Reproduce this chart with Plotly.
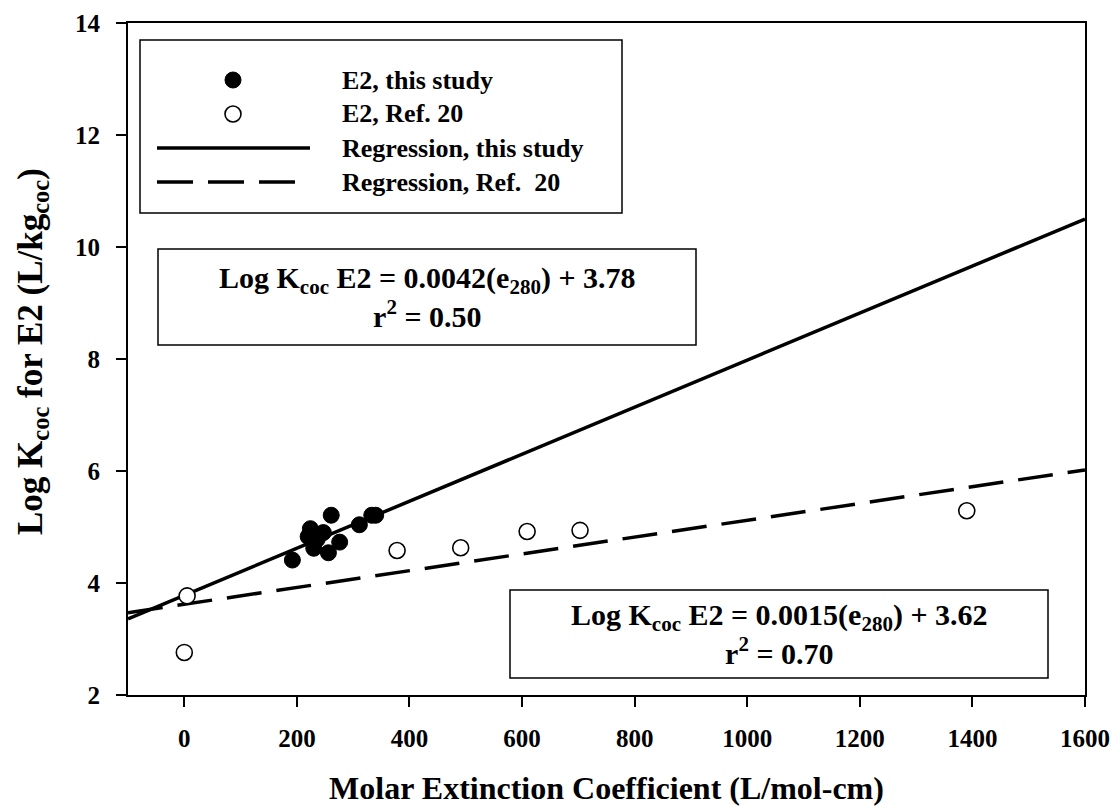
import plotly.graph_objects as go

# ---- data ----
this_x = [192, 220, 224, 230, 236, 247, 256, 261, 276, 311, 333, 340]
this_y = [4.41, 4.83, 4.97, 4.62, 4.78, 4.90, 4.54, 5.21, 4.73, 5.04, 5.21, 5.21]

ref_x = [0, 5, 378, 491, 609, 703, 1390]
ref_y = [2.76, 3.77, 4.58, 4.63, 4.92, 4.94, 5.29]

reg_x = [-100, 1600]
reg_this_y = [3.36, 10.50]
reg_ref_y = [3.47, 6.02]

x_ticks = [0, 200, 400, 600, 800, 1000, 1200, 1400, 1600]
y_ticks = [2, 4, 6, 8, 10, 12, 14]

legend_labels = ["E2, this study", "E2, Ref. 20", "Regression, this study", "Regression, Ref.  20"]
eq_this = "Log K<sub>coc</sub> E2 = 0.0042(e<sub>280</sub>) + 3.78<br>r<sup>2</sup> = 0.50"
eq_ref = "Log K<sub>coc</sub> E2 = 0.0015(e<sub>280</sub>) + 3.62<br>r<sup>2</sup> = 0.70"
x_title = "Molar Extinction Coefficient (L/mol-cm)"
y_title = "Log K<sub>coc</sub> for E2 (L/kg<sub>coc</sub>)"

# ---- layout geometry (pixels) ----
W, H = 1117, 806
L, R, T, B = 128, 1085, 23, 695
FONT = "Liberation Serif"


def px(x):
    return (x - L) / (R - L)


def py(y):
    return (B - y) / (B - T)


fig = go.Figure()

fig.add_trace(go.Scatter(x=reg_x, y=reg_this_y, mode="lines",
                         line=dict(color="black", width=3.5), showlegend=False))
fig.add_trace(go.Scatter(x=reg_x, y=reg_ref_y, mode="lines",
                         line=dict(color="black", width=3.5, dash="35px,15px"), showlegend=False))
fig.add_trace(go.Scatter(x=this_x, y=this_y, mode="markers",
                         marker=dict(color="black", size=16, line=dict(color="black", width=1)),
                         showlegend=False))
fig.add_trace(go.Scatter(x=ref_x, y=ref_y, mode="markers",
                         marker=dict(color="white", size=16, line=dict(color="black", width=1.6)),
                         showlegend=False))

shapes = []
annotations = []

# legend box
shapes.append(dict(type="rect", xref="paper", yref="paper",
                   x0=px(140), x1=px(622), y0=py(213), y1=py(40),
                   line=dict(color="black", width=1.5), fillcolor="white", layer="below"))
rows = [80, 114, 148, 182]
shapes.append(dict(type="circle", xref="paper", yref="paper", xsizemode="pixel", ysizemode="pixel",
                   xanchor=px(233), yanchor=py(rows[0]), x0=-8, x1=8, y0=-8, y1=8,
                   fillcolor="black", line=dict(color="black", width=1)))
shapes.append(dict(type="circle", xref="paper", yref="paper", xsizemode="pixel", ysizemode="pixel",
                   xanchor=px(233), yanchor=py(rows[1]), x0=-8, x1=8, y0=-8, y1=8,
                   fillcolor="white", line=dict(color="black", width=1.6)))
shapes.append(dict(type="line", xref="paper", yref="paper",
                   x0=px(157), x1=px(310), y0=py(rows[2]), y1=py(rows[2]),
                   line=dict(color="black", width=3.5)))
shapes.append(dict(type="line", xref="paper", yref="paper",
                   x0=px(157), x1=px(295), y0=py(rows[3]), y1=py(rows[3]),
                   line=dict(color="black", width=3.5, dash="36px,15px")))
for r, lab in zip(rows, legend_labels):
    annotations.append(dict(xref="paper", yref="paper", x=px(340), y=py(r), text="<b>%s</b>" % lab,
                            showarrow=False, xanchor="left", yanchor="middle",
                            font=dict(family=FONT, size=26, color="black")))

# equation boxes
shapes.append(dict(type="rect", xref="paper", yref="paper",
                   x0=px(158), x1=px(696), y0=py(345), y1=py(249),
                   line=dict(color="black", width=1.5), fillcolor="white", layer="below"))
annotations.append(dict(xref="paper", yref="paper", x=px(427), y=py(297), text="<b>%s</b>" % eq_this,
                        showarrow=False, xanchor="center", yanchor="middle", align="center",
                        font=dict(family=FONT, size=30, color="black")))
shapes.append(dict(type="rect", xref="paper", yref="paper",
                   x0=px(510), x1=px(1048), y0=py(678), y1=py(590),
                   line=dict(color="black", width=1.5), fillcolor="white", layer="below"))
annotations.append(dict(xref="paper", yref="paper", x=px(779), y=py(634), text="<b>%s</b>" % eq_ref,
                        showarrow=False, xanchor="center", yanchor="middle", align="center",
                        font=dict(family=FONT, size=30, color="black")))

# y axis title (placed as rotated text)
annotations.append(dict(xref="paper", yref="paper", x=px(32), y=py(352), text="<b>%s</b>" % y_title,
                        showarrow=False, xanchor="center", yanchor="middle", textangle=-90,
                        font=dict(family=FONT, size=35, color="black")))

fig.update_layout(
    width=W, height=H,
    margin=dict(l=L, r=W - R, t=T, b=H - B, autoexpand=False),
    paper_bgcolor="white", plot_bgcolor="white",
    shapes=shapes, annotations=annotations,
    showlegend=False,
    font=dict(family=FONT, color="black"),
)
fig.update_xaxes(range=[-100, 1600], tickvals=x_ticks, ticktext=["<b>%d</b>" % v for v in x_ticks],
                 ticks="outside", ticklen=10, tickwidth=2, tickcolor="black",
                 showline=True, linewidth=2, linecolor="black", mirror=True,
                 showgrid=False, zeroline=False, automargin=False, ticklabelstandoff=10,
                 tickfont=dict(family=FONT, size=25, color="black"),
                 title=dict(text="<b>%s</b>" % x_title, standoff=28,
                            font=dict(family=FONT, size=32, color="black")))
fig.update_yaxes(range=[2, 14], tickvals=y_ticks, ticktext=["<b>%d</b>" % v for v in y_ticks],
                 ticks="outside", ticklen=10, tickwidth=2, tickcolor="black",
                 showline=True, linewidth=2, linecolor="black", mirror=True,
                 showgrid=False, zeroline=False, automargin=False, ticklabelstandoff=11,
                 tickfont=dict(family=FONT, size=25, color="black"))

fig.write_html("out.html")
